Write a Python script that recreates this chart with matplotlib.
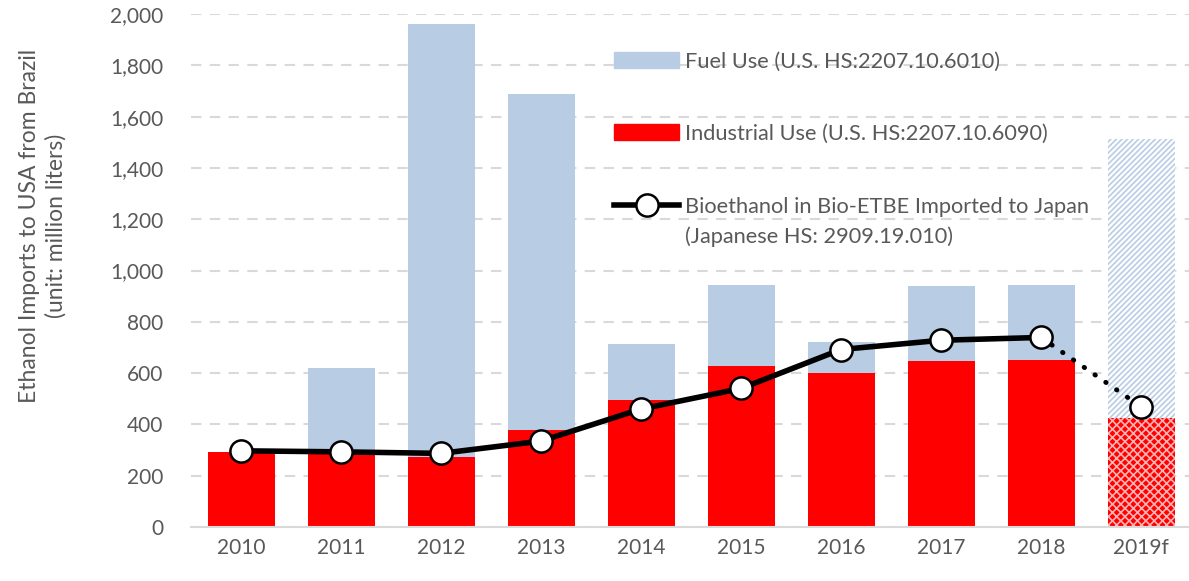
import matplotlib
matplotlib.use('Agg')
import matplotlib.pyplot as plt
from matplotlib.lines import Line2D
from matplotlib.patches import Patch
import numpy as np

years = ['2010', '2011', '2012', '2013', '2014', '2015', '2016', '2017', '2018', '2019f']
industrial = [293, 284, 274, 379, 495, 627, 600, 648, 652, 426]
total = [293, 619, 1960, 1687, 713, 943, 721, 939, 943, 1514]
fuel = [t - i for t, i in zip(total, industrial)]
etbe = [297, 293, 287, 335, 460, 540, 692, 728, 739, 469]

plt.rcParams['font.family'] = ['Lato', 'DejaVu Sans']
plt.rcParams['hatch.linewidth'] = 1.2
grey = '#595959'
blue = '#b8cce4'

fig = plt.figure(figsize=(11.89, 5.81), dpi=100)
ax = fig.add_axes([191 / 1189, 54 / 581, 1000 / 1189, 513 / 581])

x = np.arange(len(years))
w = 0.67
n = len(years) - 1  # last one is forecast

ax.bar(x[:n], industrial[:n], w, color='red', zorder=2)
ax.bar(x[:n], fuel[:n], w, bottom=industrial[:n], color=blue, zorder=2)
# forecast bar, hatched
ax.bar(x[n], industrial[n], w, facecolor='red', edgecolor='#ffb3b3', hatch='xxxx', linewidth=0, zorder=2)
ax.bar(x[n], fuel[n], w, bottom=industrial[n], facecolor='white', edgecolor=blue, hatch='//////', linewidth=0, zorder=2)

ax.plot(x[:n], etbe[:n], color='black', lw=4, zorder=3, solid_capstyle='round')
ax.plot(x[n - 1:], etbe[n - 1:], color='black', lw=3.5, ls=(0, (0.1, 2.6)), dash_capstyle='round', zorder=3)
ax.plot(x, etbe, ls='none', marker='o', ms=16, mfc='white', mec='black', mew=1.8, zorder=4)

ax.set_xlim(-0.5, 9.5)
ax.set_ylim(0, 2000)
ax.set_yticks(range(0, 2001, 200))
ax.yaxis.set_major_formatter(matplotlib.ticker.FuncFormatter(lambda v, p: '{:,.0f}'.format(v)))
ax.set_xticks(x)
ax.set_xticklabels(years)
ax.tick_params(axis='both', length=0, labelsize=15, colors=grey)
ax.tick_params(axis='x', pad=8)
ax.tick_params(axis='y', pad=20)
ax.grid(axis='y', color='#d9d9d9', ls=(0, (5, 4)), lw=1.5, zorder=0)
for s in ['top', 'right', 'left']:
    ax.spines[s].set_visible(False)
ax.spines['bottom'].set_color('#d9d9d9')
ax.spines['bottom'].set_linewidth(1.5)

fig.text(43 / 1189, 1 - 226 / 581, 'Ethanol Imports to USA from Brazil\n(unit: million liters)',
         rotation=90, ha='center', va='center', multialignment='center',
         fontsize=16.5, color=grey, linespacing=1.3)

handles = [Patch(color=blue), Patch(color='red'),
           Line2D([], [], color='black', lw=4, marker='o', ms=16, mfc='white', mec='black', mew=1.8)]
labels = ['Fuel Use (U.S. HS:2207.10.6010)', 'Industrial Use (U.S. HS:2207.10.6090)',
          'Bioethanol in Bio-ETBE Imported to Japan']
leg = ax.legend(handles, labels, loc='upper left', bbox_to_anchor=(0.406, 0.961), frameon=False,
                fontsize=15.7, labelcolor=grey, handlelength=2.95, handleheight=0.75,
                labelspacing=2.41, handletextpad=0.3, borderpad=0.3)
# second line of the last legend entry
ax.text(0.494, (527 - 237) / 513, '(Japanese HS: 2909.19.010)', transform=ax.transAxes,
        ha='left', va='center', fontsize=15.7, color=grey)

fig.savefig('out.png', dpi=100)
